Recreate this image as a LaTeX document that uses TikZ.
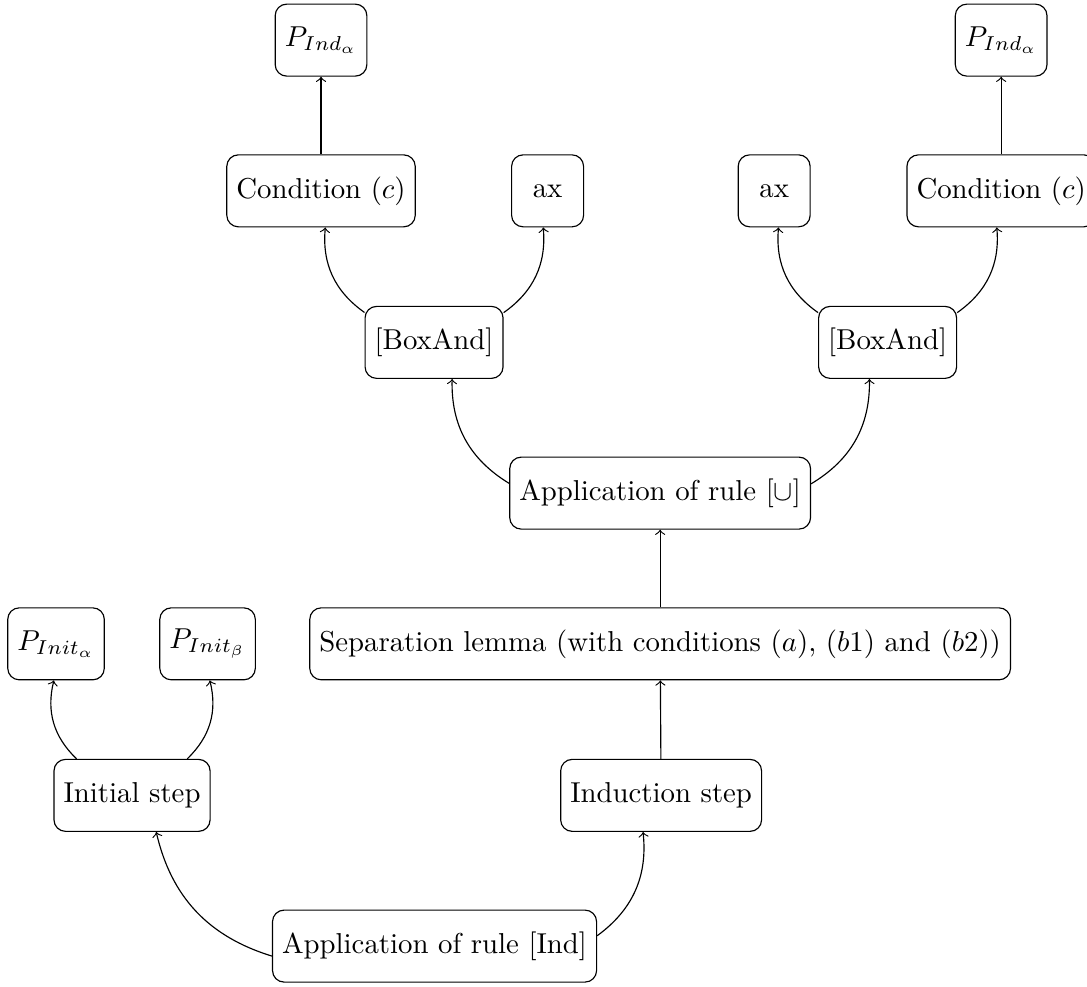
\documentclass[tikz,border=0pt]{standalone}
\usepackage{tikz}

\begin{document}
\begin{tikzpicture}[stepBox/.style={rectangle, draw=black, rounded corners=4pt, minimum height=2.5em, minimum width=2.5em}]
\useasboundingbox (0,0) rectangle (13.27,12.04);

\node[stepBox](applyIndBox) at (5.305,0.49){Application of rule [Ind]};
	\node[stepBox](initStepBox) at (1.612,2.33){Initial step};
	\node[stepBox](indStepBox) at (8.071,2.33){Induction step};

	\node[stepBox](pInitAlphaBox) at (0.684,4.18){$P_{Init_\alpha}$};
	\node[stepBox](pInitBetaBox) at (2.534,4.18){$P_{Init_\beta}$};
	\node[stepBox](sepLemmaBox) at (8.059,4.18){Separation lemma (with conditions $(a)$, $(b1)$ and $(b2)$)};

	\node[stepBox](applyUnionBox) at (8.059,6.02){Application of rule $[\cup]$};

	\node[stepBox](boxAnd1Box) at (5.299,7.86){[BoxAnd]};
	\node[stepBox](boxAnd2Box) at (10.836,7.86){[BoxAnd]};

	\node[stepBox](cond1Box) at (3.919,9.71){Condition $(c)$};
	\node[stepBox](ax1Box) at (6.685,9.71){ax};
	\node[stepBox](ax2Box) at (9.451,9.71){ax};
	\node[stepBox](cond2Box) at (12.222,9.71){Condition $(c)$};

	\node[stepBox](pInd1Box) at (3.919,11.55){$P_{Ind_\alpha}$};
	\node[stepBox](pInd2Box) at (12.222,11.55){$P_{Ind_\alpha}$};

	\draw[->] (applyIndBox) to[bend left] (initStepBox);
	\draw[->] (applyIndBox) to[bend right] (indStepBox);

	\draw[->] (initStepBox) to[bend left] (pInitAlphaBox);
	\draw[->] (initStepBox) to[bend right] (pInitBetaBox);

	\draw[->] (indStepBox) -- (sepLemmaBox);
	\draw[->] (sepLemmaBox) -- (applyUnionBox);

	\draw[->] (applyUnionBox) to[bend left] (boxAnd1Box);
	\draw[->] (applyUnionBox) to[bend right] (boxAnd2Box);

	\draw[->] (boxAnd1Box) to[bend left] (cond1Box);
	\draw[->] (boxAnd1Box) to[bend right] (ax1Box);
	\draw[->] (boxAnd2Box) to[bend left] (ax2Box);
	\draw[->] (boxAnd2Box) to[bend right] (cond2Box);

	\draw[->] (cond1Box) -- (pInd1Box);
	\draw[->] (cond2Box) -- (pInd2Box);
\end{tikzpicture}
\end{document}
